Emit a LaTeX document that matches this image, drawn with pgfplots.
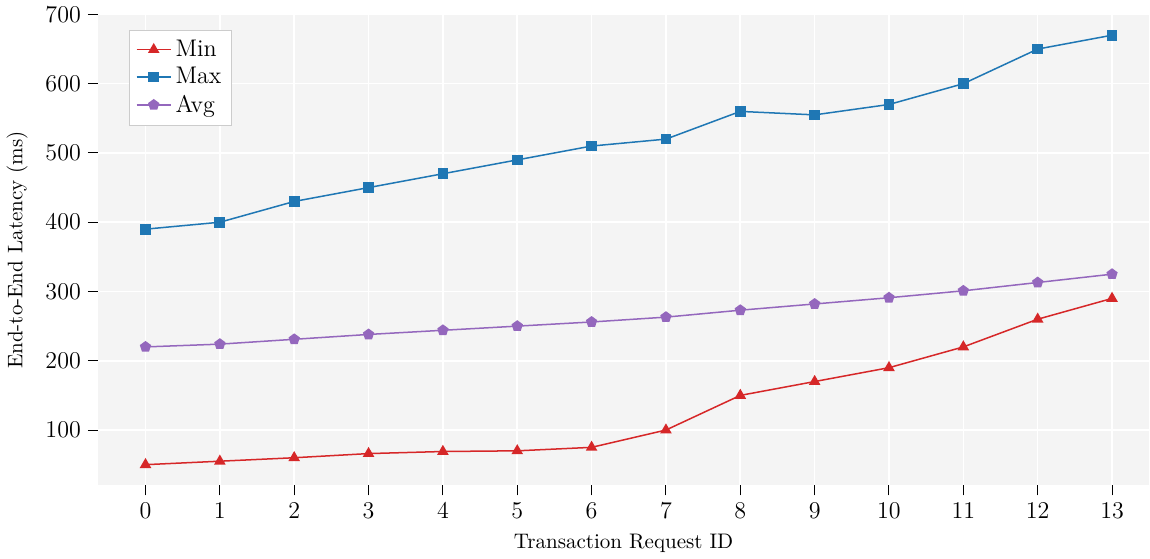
\documentclass[border=0pt]{standalone}
\usepackage{pgfplots}
\pgfplotsset{compat=1.18}
\definecolor{cmin}{HTML}{D62728}
\definecolor{cmax}{HTML}{1F77B4}
\definecolor{cavg}{HTML}{9467BD}
\definecolor{bgc}{HTML}{F4F4F4}
\begin{document}
\begin{tikzpicture}
\begin{axis}[
  scale only axis,
  width=524.5pt, height=235pt,
  xmin=-0.64, xmax=13.5,
  ymin=20, ymax=700,
  xtick={0,...,13},
  ytick={100,200,...,700},
  axis background/.style={fill=bgc},
  axis line style={draw=none},
  grid=major,
  grid style={white, line width=0.8pt},
  tick align=outside,
  major tick length=5pt,
  tick style={black, line width=0.5pt},
  xtick pos=bottom, ytick pos=left,
  tick label style={font=\large},
  label style={font=\fontsize{10.5}{12}\selectfont},
  xlabel={Transaction Request ID},
  ylabel={End-to-End Latency (ms)},
  xlabel style={yshift=-1pt},
  ylabel style={yshift=2pt},
  legend style={at={(0.03,0.968)}, anchor=north west, draw=black!20, fill=white, font=\large, row sep=0pt, inner sep=3pt},
  legend cell align=left,
]
\addplot[color=cmin, line width=0.75pt, mark=triangle*, mark size=2.6pt] coordinates {
(0,50) (1,55) (2,60) (3,66) (4,69) (5,70) (6,75) (7,100) (8,150) (9,170) (10,190) (11,220) (12,260) (13,290)};
\addlegendentry{Min}
\addplot[color=cmax, line width=0.75pt, mark=square*, mark size=2.3pt] coordinates {
(0,390) (1,400) (2,430) (3,450) (4,470) (5,490) (6,510) (7,520) (8,560) (9,555) (10,570) (11,600) (12,650) (13,670)};
\addlegendentry{Max}
\addplot[color=cavg, line width=0.75pt, mark=pentagon*, mark size=2.5pt] coordinates {
(0,220) (1,224) (2,231) (3,238) (4,244) (5,250) (6,256) (7,263) (8,273) (9,282) (10,291) (11,301) (12,313) (13,325)};
\addlegendentry{Avg}
\end{axis}
\end{tikzpicture}
\end{document}
